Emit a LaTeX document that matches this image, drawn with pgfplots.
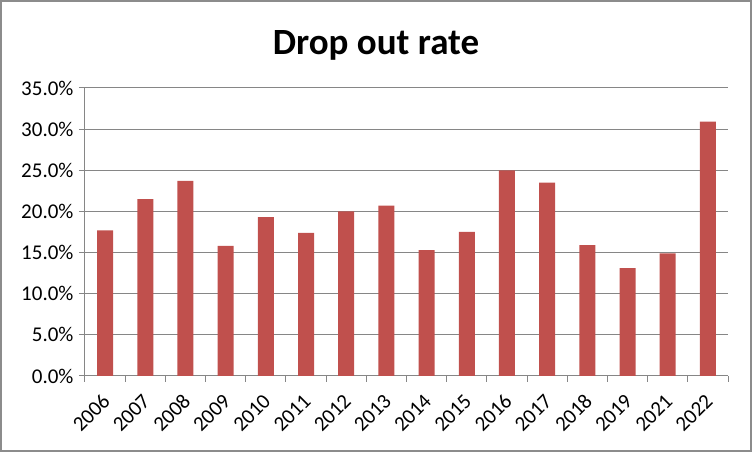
\documentclass[border=0pt]{standalone}
\usepackage{pgfplots}
\pgfplotsset{compat=1.18}
\usepackage{fontspec}
\setmainfont{Carlito}
\definecolor{barred}{HTML}{C0504D}
\definecolor{gridgray}{HTML}{868686}
\definecolor{framegray}{HTML}{8C8C8C}
\begin{document}
\begin{tikzpicture}
\draw[framegray, line width=2pt] (1pt,1pt) rectangle (751pt,451pt);
\node[anchor=base] at (376pt,397pt) {\fontsize{37}{44}\selectfont\bfseries Drop out rate};
\begin{axis}[
  at={(85pt,76pt)}, anchor=south west,
  width=643pt, height=288pt, scale only axis,
  xmin=-0.5, xmax=15.5, ymin=0, ymax=35,
  axis x line*=bottom, axis y line*=left,
  axis line style={gridgray, line width=1pt, -},
  ytick={0,5,...,35},
  yticklabel={\pgfmathprintnumber[fixed,fixed zerofill,precision=1]{\tick}\%},
  ymajorgrids, grid style={gridgray, line width=1pt},
  tick align=outside, major tick length=6pt,
  tick style={gridgray, line width=1pt},
  xtick={-0.5,0.5,...,15.5}, xticklabels={},
  extra x ticks={0,1,...,15},
  extra x tick labels={2006,2007,2008,2009,2010,2011,2012,2013,2014,2015,2016,2017,2018,2019,2021,2022},
  extra x tick style={major tick length=0pt, xticklabel style={yshift=-21pt, xshift=2pt, rotate=45, anchor=east, inner sep=1pt}},
  /pgf/number format/assume math mode=true,
  ticklabel style={font=\fontsize{21}{25}\selectfont, text=black},
  yticklabel style={xshift=-2pt},
]
\addplot[ybar, bar width=16pt, fill=barred, draw=none] coordinates {
(0,17.7) (1,21.5) (2,23.7) (3,15.8) (4,19.3) (5,17.4) (6,20.0) (7,20.7)
(8,15.3) (9,17.5) (10,25.0) (11,23.5) (12,15.9) (13,13.1) (14,14.9) (15,30.9)
};
\end{axis}
\end{tikzpicture}
\end{document}
